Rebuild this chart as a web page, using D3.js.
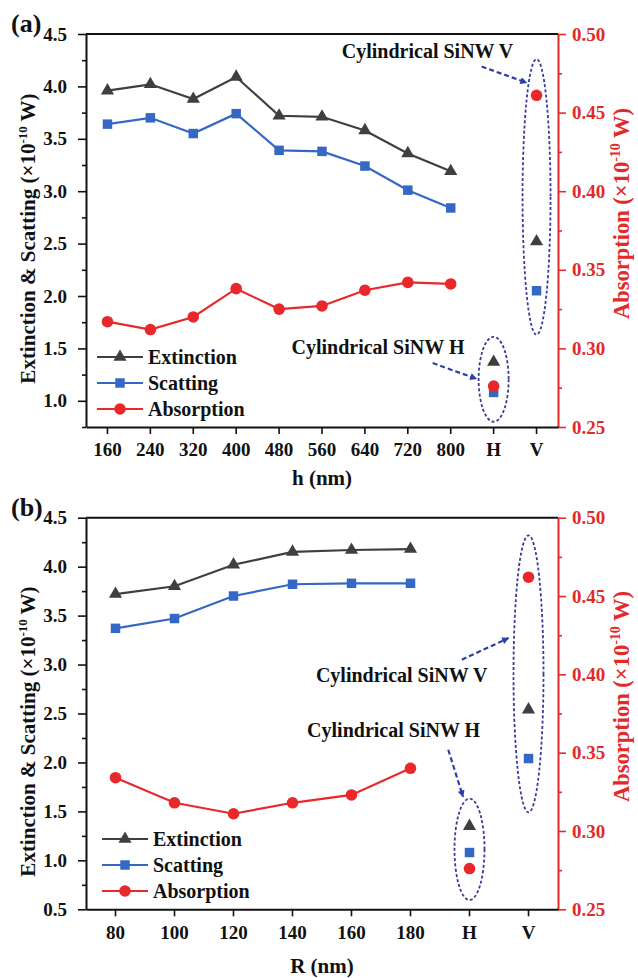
<!DOCTYPE html>
<html><head><meta charset="utf-8">
<script src="https://cdn.jsdelivr.net/npm/d3@7"></script>
<style>
body{margin:0;background:#fff}
svg{display:block}
text{font-family:"Liberation Serif","Times New Roman",serif;font-weight:bold}
</style>
</head><body><svg id="c" width="638" height="978"></svg>
<script>
// ---------- DATA ----------
const hCats = ["160","240","320","400","480","560","640","720","800","H","V"];
const extA = [3.96, 4.02, 3.88, 4.09, 3.72, 3.71, 3.58, 3.36, 3.19];
const scaA = [3.64, 3.70, 3.55, 3.74, 3.39, 3.38, 3.24, 3.01, 2.84];
const absA = [0.317, 0.312, 0.320, 0.338, 0.325, 0.327, 0.337, 0.342, 0.341];

const rCats = ["80","100","120","140","160","180","H","V"];
const extB = [3.72, 3.80, 4.02, 4.15, 4.17, 4.18];
const scaB = [3.37, 3.47, 3.70, 3.82, 3.83, 3.83];
const absB = [0.334, 0.318, 0.311, 0.318, 0.323, 0.340];

const cylCats = ["H","V"];
const cylExtA = [1.37, 2.52];
const cylScaA = [1.08, 2.05];
const cylAbsA = [0.276, 0.461];
const cylExtB = [1.35, 2.54];
const cylScaB = [1.08, 2.04];
const cylAbsB = [0.276, 0.462];

const leftTicksA = [1.0, 1.5, 2.0, 2.5, 3.0, 3.5, 4.0, 4.5];
const leftTicksB = [0.5, 1.0, 1.5, 2.0, 2.5, 3.0, 3.5, 4.0, 4.5];
const rightTicks = [0.25, 0.30, 0.35, 0.40, 0.45, 0.50];
const seriesNames = ["Extinction", "Scatting", "Absorption"];

// ---------- STYLE ----------
const C_EXT = "#3f3f3f", C_SCA = "#3567c4", C_ABS = "#e8282b", C_RED = "#e32a2a";
const C_ELL = "#3a3c98", C_ARR = "#2f3fa6";

const svg = d3.select("#c");
const defs = svg.append("defs");
defs.append("marker").attr("id","ah").attr("viewBox","0 0 10 10").attr("refX",9).attr("refY",5)
  .attr("markerWidth",9).attr("markerHeight",7).attr("markerUnits","userSpaceOnUse").attr("orient","auto")
  .append("path").attr("d","M0,0 L10,5 L0,10 z").attr("fill", C_ARR);

function drawPanel(p) {
  const g = svg.append("g");
  const x = d3.scaleBand().domain(p.cats).range([p.left, p.right]);
  const xc = c => x(c) + x.bandwidth()/2;
  const xi = i => p.left + (i + 0.5) * x.bandwidth();
  const yL = d3.scaleLinear().domain(p.yDom).range([p.bottom, p.top]);
  const yR = d3.scaleLinear().domain([0.25, 0.50]).range([p.bottom, p.top]);

  // minor ticks left
  const minorL = d3.range(p.yDom[0], 4.5001, 0.25).filter(v => !p.leftTicks.some(t => Math.abs(t - v) < 1e-6));
  g.append("g").attr("transform",`translate(${p.left},0)`)
    .call(d3.axisLeft(yL).tickValues(minorL).tickSize(4).tickFormat(""))
    .call(a => a.select(".domain").remove())
    .selectAll("line").attr("stroke","#111").attr("stroke-width",1.6);
  const ax = g.append("g").attr("transform",`translate(${p.left},0)`)
    .call(d3.axisLeft(yL).tickValues(p.leftTicks).tickSize(8).tickSizeOuter(0).tickPadding(11).tickFormat(d3.format(".1f")));
  ax.select(".domain").attr("stroke","#111").attr("stroke-width",2);
  ax.selectAll("line").attr("stroke","#111").attr("stroke-width",1.6);
  ax.selectAll("text").attr("font-size",19).attr("fill","#111").style("font-family","Liberation Serif").style("font-weight","bold");

  // right axis
  const minorR = d3.range(0.275, 0.5, 0.05);
  g.append("g").attr("transform",`translate(${p.right},0)`)
    .call(d3.axisRight(yR).tickValues(minorR).tickSize(4).tickFormat(""))
    .call(a => a.select(".domain").remove())
    .selectAll("line").attr("stroke",C_RED).attr("stroke-width",1.6);
  const ar = g.append("g").attr("transform",`translate(${p.right},0)`)
    .call(d3.axisRight(yR).tickValues(rightTicks).tickSize(8).tickSizeOuter(0).tickPadding(6).tickFormat(d3.format(".2f")));
  ar.select(".domain").attr("stroke",C_RED).attr("stroke-width",2);
  ar.selectAll("line").attr("stroke",C_RED).attr("stroke-width",1.6);
  ar.selectAll("text").attr("font-size",19).attr("fill",C_RED).style("font-family","Liberation Serif").style("font-weight","bold");

  // bottom axis
  const ab = g.append("g").attr("transform",`translate(0,${p.bottom})`)
    .call(d3.axisBottom(x).tickSize(7).tickSizeOuter(0).tickPadding(9));
  ab.select(".domain").attr("stroke","#111").attr("stroke-width",2);
  ab.selectAll("line").attr("stroke","#111").attr("stroke-width",1.6);
  ab.selectAll("text").attr("font-size",19).attr("fill","#111").style("font-family","Liberation Serif").style("font-weight","bold");

  // top border
  g.append("line").attr("x1",p.left).attr("x2",p.right).attr("y1",p.top).attr("y2",p.top)
    .attr("stroke","#111").attr("stroke-width",2);

  // titles
  g.append("text").attr("x",11).attr("y",p.top - 2).attr("font-size",26).attr("fill","#111").text(p.label);
  g.append("text").attr("x",(p.left+p.right)/2).attr("y",p.xTitleY).attr("text-anchor","middle")
    .attr("font-size",21).attr("fill","#111").text(p.xTitle);
  const lt = g.append("text").attr("transform",`translate(35,${(p.top+p.bottom)/2 + p.ltOff}) rotate(-90)`)
    .attr("text-anchor","middle").attr("font-size",21).attr("fill","#111");
  lt.append("tspan").text("Extinction & Scatting (×10");
  lt.append("tspan").attr("font-size",13).attr("dy",-8).text("-10");
  lt.append("tspan").attr("dy",8).text(" W)");
  const rt = g.append("text").attr("transform",`translate(629,${(p.top+p.bottom)/2 - 17}) rotate(-90)`)
    .attr("text-anchor","middle").attr("font-size",22.5).attr("fill",C_RED);
  rt.append("tspan").text("Absorption (×10");
  rt.append("tspan").attr("font-size",14).attr("dy",-9).text("-10");
  rt.append("tspan").attr("dy",9).text(" W)");

  // annotations: ellipses, arrows, labels
  p.ellipses.forEach(e => {
    g.append("ellipse").attr("cx", xc(e.cat)).attr("cy", (yL(e.top)+yL(e.bot))/2)
      .attr("rx", e.rx).attr("ry", Math.abs(yL(e.bot)-yL(e.top))/2)
      .attr("fill","none").attr("stroke",C_ELL).attr("stroke-width",1.8).attr("stroke-dasharray","3,2.2");
  });
  p.arrows.forEach(a => {
    g.append("line").attr("x1",xi(a.i0)).attr("y1",yL(a.v0)).attr("x2",xi(a.i1)).attr("y2",yL(a.v1))
      .attr("stroke",C_ARR).attr("stroke-width",2.2).attr("stroke-dasharray","5,3").attr("marker-end","url(#ah)");
  });
  p.notes.forEach(n => {
    g.append("text").attr("x",xi(n.i)).attr("y",yL(n.v)).attr("text-anchor",n.anchor)
      .attr("font-size",20).attr("fill","#111").text(n.text);
  });

  // series
  const pts = (arr, sc) => arr.map((v,i) => [xc(p.cats[i]), sc(v)]);
  const cyl = (arr, sc) => arr.map((v,i) => [xc(cylCats[i]), sc(v)]);
  const line = d3.line();
  const tri = d3.symbol(d3.symbolTriangle, 75)();
  const sq = d3.symbol(d3.symbolSquare, 90)();

  g.append("path").attr("d", line(pts(p.ext,yL))).attr("fill","none").attr("stroke",C_EXT).attr("stroke-width",2.2);
  g.selectAll(null).data(pts(p.ext,yL).concat(cyl(p.cylExt,yL))).join("path")
    .attr("d",tri).attr("transform",d=>`translate(${d[0]},${d[1]})`).attr("fill",C_EXT);

  g.append("path").attr("d", line(pts(p.sca,yL))).attr("fill","none").attr("stroke",C_SCA).attr("stroke-width",2.2);
  g.selectAll(null).data(pts(p.sca,yL).concat(cyl(p.cylSca,yL))).join("path")
    .attr("d",sq).attr("transform",d=>`translate(${d[0]},${d[1]})`).attr("fill",C_SCA);

  g.append("path").attr("d", line(pts(p.abs,yR))).attr("fill","none").attr("stroke",C_ABS).attr("stroke-width",2.2);
  g.selectAll(null).data(pts(p.abs,yR).concat(cyl(p.cylAbs,yR))).join("circle")
    .attr("cx",d=>d[0]).attr("cy",d=>d[1]).attr("r",5.8).attr("fill",C_ABS);

  // legend
  const cols = [C_EXT, C_SCA, C_ABS];
  seriesNames.forEach((s,k) => {
    const y = p.legY + k*26, x0 = p.legX;
    g.append("line").attr("x1",x0).attr("x2",x0+46).attr("y1",y).attr("y2",y).attr("stroke",cols[k]).attr("stroke-width",2.2);
    if (k===0) g.append("path").attr("d",tri).attr("transform",`translate(${x0+23},${y})`).attr("fill",cols[k]);
    if (k===1) g.append("path").attr("d",sq).attr("transform",`translate(${x0+23},${y})`).attr("fill",cols[k]);
    if (k===2) g.append("circle").attr("cx",x0+23).attr("cy",y).attr("r",5.8).attr("fill",cols[k]);
    g.append("text").attr("x",x0+51).attr("y",y+7).attr("font-size",20).attr("fill","#111").text(s);
  });
}

drawPanel({
  label:"(a)", cats:hCats, ext:extA, sca:scaA, abs:absA, cylExt:cylExtA, cylSca:cylScaA, cylAbs:cylAbsA,
  top:34, bottom:427, left:86, right:558, yDom:[0.75,4.5], leftTicks:leftTicksA,
  xTitle:"h (nm)", xTitleY:485, ltOff:8, legX:97, legY:357,
  ellipses:[{cat:"V", top:4.26, bot:1.63, rx:14}, {cat:"H", top:1.61, bot:0.80, rx:15}],
  arrows:[{i0:8.72, v0:4.19, i1:9.77, v1:4.035}, {i0:7.58, v0:1.36, i1:8.60, v1:1.21}],
  notes:[{i:7.46, v:4.27, anchor:"middle", text:"Cylindrical SiNW V"}, {i:8.32, v:1.45, anchor:"end", text:"Cylindrical SiNW H"}]
});
drawPanel({
  label:"(b)", cats:rCats, ext:extB, sca:scaB, abs:absB, cylExt:cylExtB, cylSca:cylScaB, cylAbs:cylAbsB,
  top:517.7, bottom:909.3, left:86, right:558, yDom:[0.5,4.5], leftTicks:leftTicksB,
  xTitle:"R (nm)", xTitleY:973, ltOff:18, legX:102, legY:839,
  ellipses:[{cat:"V", top:4.32, bot:1.49, rx:15}, {cat:"H", top:1.63, bot:0.595, rx:15}],
  arrows:[{i0:5.87, v0:3.05, i1:6.66, v1:3.27}, {i0:5.64, v0:2.13, i1:5.89, v1:1.65}],
  notes:[{i:4.85, v:2.82, anchor:"middle", text:"Cylindrical SiNW V"}, {i:6.18, v:2.26, anchor:"end", text:"Cylindrical SiNW H"}]
});
</script>
</body></html>
